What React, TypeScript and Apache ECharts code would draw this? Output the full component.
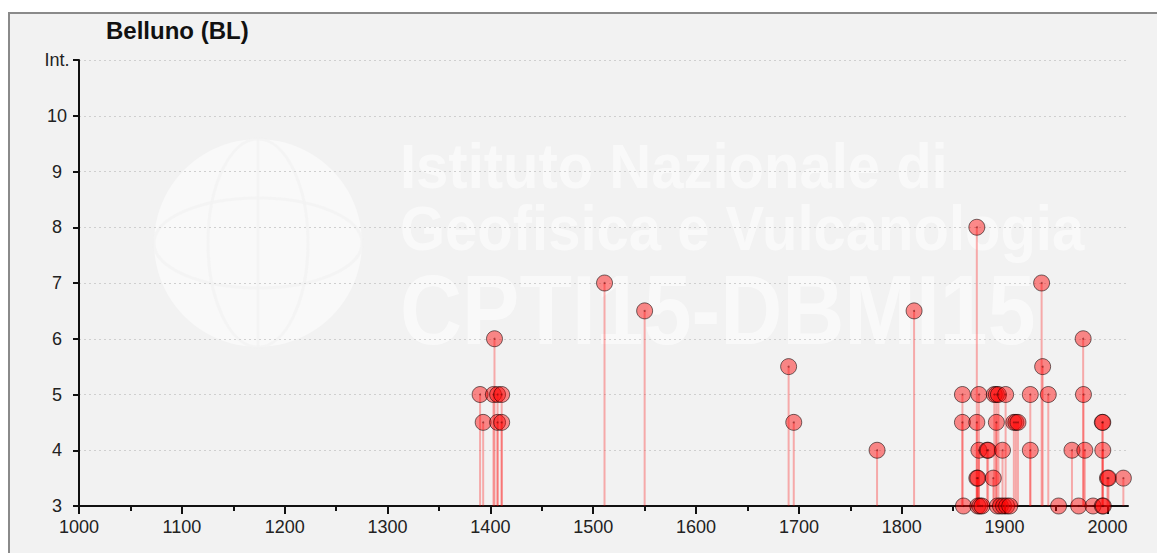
import React, { useEffect, useRef } from "react";
import * as echarts from "echarts";

const TITLE = "Belluno (BL)";
const xTickLabels = [1000, 1100, 1200, 1300, 1400, 1500, 1600, 1700, 1800, 1900, 2000];
const xMinorTicks = [1050, 1150, 1250, 1350, 1450, 1550, 1650, 1750, 1850, 1950];
const yTicks = [3, 4, 5, 6, 7, 8, 9, 10, 11];

const years = [
  1390, 1393, 1403, 1404, 1407, 1411, 1407, 1411,
  1511, 1550, 1690, 1695, 1776, 1812,
  1873, 1936, 1976.4, 1937,
  1859, 1875, 1890, 1892, 1894, 1901, 1925, 1942.5, 1976.7,
  1859, 1873, 1892, 1909, 1911, 1913, 1995, 1995.5,
  1875, 1883, 1884, 1898, 1925, 1965.5, 1978, 1995.5,
  1873, 1874, 1889, 2000, 2001, 2015.5,
  1860, 1874, 1876, 1878, 1893, 1896, 1899, 1902, 1905, 1952.5, 1972, 1986, 1995, 1996,
];
const intensities = [
  5, 4.5, 5, 6, 5, 5, 4.5, 4.5,
  7, 6.5, 5.5, 4.5, 4, 6.5,
  8, 7, 6, 5.5,
  5, 5, 5, 5, 5, 5, 5, 5, 5,
  4.5, 4.5, 4.5, 4.5, 4.5, 4.5, 4.5, 4.5,
  4, 4, 4, 4, 4, 4, 4, 4,
  3.5, 3.5, 3.5, 3.5, 3.5, 3.5,
  3, 3, 3, 3, 3, 3, 3, 3, 3, 3, 3, 3, 3, 3,
];

const FONT = "'Liberation Sans', Arial, Helvetica, sans-serif";
const WM = "rgba(255,255,255,0.55)";

export default function App() {
  const ref = useRef<HTMLDivElement>(null);
  useEffect(() => {
    if (!ref.current) return;
    const chart = echarts.init(ref.current, undefined, { renderer: "svg" });
    const data = years.map((y, i) => [y, intensities[i]]);
    const option: any = {
      animation: false,
      backgroundColor: "#ffffff",
      textStyle: { fontFamily: FONT },
      grid: { left: 79, top: 60, right: 29, bottom: 47, containLabel: false },
      graphic: [
        {
          type: "rect",
          x: 9,
          y: 13,
          z: -20,
          shape: { width: 1170, height: 560 },
          style: { fill: "#f2f2f2", stroke: "#8a8a8a", lineWidth: 2 },
        },
        {
          type: "circle",
          z: -15,
          shape: { cx: 258, cy: 243, r: 104 },
          style: { fill: "rgba(255,255,255,0.5)" },
        },
        {
          type: "ellipse",
          z: -14,
          shape: { cx: 258, cy: 243, rx: 50, ry: 104 },
          style: { fill: "none", stroke: "rgba(242,242,242,0.7)", lineWidth: 3 },
        },
        {
          type: "ellipse",
          z: -14,
          shape: { cx: 258, cy: 243, rx: 104, ry: 45 },
          style: { fill: "none", stroke: "rgba(242,242,242,0.7)", lineWidth: 3 },
        },
        {
          type: "line",
          z: -14,
          shape: { x1: 258, y1: 139, x2: 258, y2: 347 },
          style: { stroke: "rgba(242,242,242,0.7)", lineWidth: 3 },
        },
        {
          type: "text",
          z: -14,
          x: 400,
          y: 166,
          scaleY: 1.1,
          style: {
            text: "Istituto Nazionale di",
            font: `bold 58px ${FONT}`,
            fill: WM,
            verticalAlign: "middle",
          },
        },
        {
          type: "text",
          z: -14,
          x: 400,
          y: 228,
          scaleY: 1.1,
          style: {
            text: "Geofisica e Vulcanologia",
            font: `bold 58px ${FONT}`,
            fill: WM,
            verticalAlign: "middle",
          },
        },
        {
          type: "text",
          z: -14,
          x: 400,
          y: 310,
          scaleY: 1.15,
          style: {
            text: "CPTI15-DBMI15",
            font: `bold 86px ${FONT}`,
            fill: WM,
            verticalAlign: "middle",
          },
        },
        {
          type: "text",
          x: 106,
          y: 30,
          style: {
            text: TITLE,
            font: `bold 24px ${FONT}`,
            fill: "#111",
            verticalAlign: "middle",
          },
        },
      ],
      xAxis: [
        {
          type: "value",
          min: 1000,
          max: 2020,
          interval: 100,
          axisLine: { show: true, onZero: false, lineStyle: { color: "#111", width: 2 } },
          axisTick: { show: true, length: 8, customValues: xTickLabels, lineStyle: { color: "#111", width: 2 } },
          axisLabel: {
            customValues: xTickLabels,
            color: "#222",
            fontSize: 18,
            margin: 12,
            fontFamily: FONT,
            formatter: (v: number) => String(v),
          },
          splitLine: { show: false },
        },
        {
          type: "value",
          min: 1000,
          max: 2020,
          position: "bottom",
          axisLine: { show: false },
          axisTick: { show: true, length: 5, customValues: xMinorTicks, lineStyle: { color: "#111", width: 2 } },
          axisLabel: { show: false },
          splitLine: { show: false },
        },
      ],
      yAxis: {
        type: "value",
        min: 3,
        max: 11,
        interval: 1,
        axisLine: { show: true, onZero: false, lineStyle: { color: "#111", width: 2 } },
        axisTick: { show: true, length: 6, lineStyle: { color: "#111", width: 2 } },
        axisLabel: {
          color: "#222",
          fontSize: 18,
          margin: 22,
          align: "center",
          fontFamily: FONT,
          formatter: (v: number) => (v === 11 ? "Int." : String(v)),
        },
        splitLine: { show: true, lineStyle: { color: "#cfcfcf", type: [2, 3], width: 1 } },
      },
      series: [
        {
          type: "custom",
          xAxisIndex: 0,
          yAxisIndex: 0,
          z: 3,
          clip: false,
          data,
          encode: { x: 0, y: 1 },
          renderItem: (params: any, api: any) => {
            const x = api.value(0);
            const y = api.value(1);
            const p0 = api.coord([x, yTicks[0]]);
            const p1 = api.coord([x, y]);
            return {
              type: "line",
              shape: { x1: p0[0], y1: p0[1], x2: p1[0], y2: p1[1] },
              style: { stroke: "rgba(255,0,0,0.3)", lineWidth: 2 },
            };
          },
        },
        {
          type: "scatter",
          xAxisIndex: 0,
          yAxisIndex: 0,
          z: 4,
          clip: false,
          symbol: "circle",
          symbolSize: 16,
          data,
          itemStyle: {
            color: "rgba(255,0,0,0.45)",
            borderColor: "rgba(0,0,0,0.55)",
            borderWidth: 1,
            opacity: 1,
          },
          emphasis: { disabled: true },
        },
        {
          type: "scatter",
          xAxisIndex: 0,
          yAxisIndex: 0,
          z: 5,
          clip: false,
          symbol: "circle",
          symbolSize: 2,
          data,
          itemStyle: { color: "rgba(90,0,0,0.6)" },
          emphasis: { disabled: true },
        },
      ],
    };
    chart.setOption(option);
    return () => chart.dispose();
  }, []);
  return (
    <div
      ref={ref}
      style={{ position: "fixed", left: 0, top: 0, width: 1157, height: 553 }}
    />
  );
}
